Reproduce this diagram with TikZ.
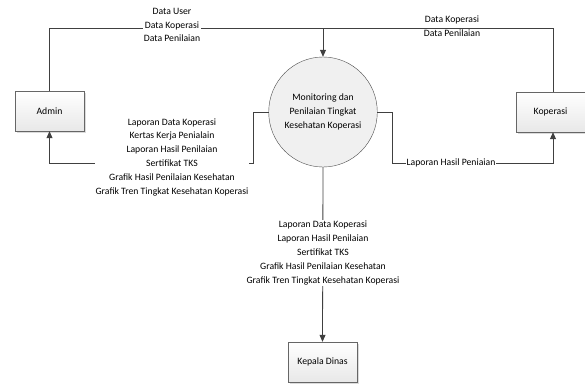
\documentclass[tikz,border=0pt]{standalone}
\usepackage{fontspec}
\setmainfont{Carlito}
\usetikzlibrary{shapes,arrows,arrows.meta,positioning,calc,shadows,shapes.geometric}

\begin{document}
\begin{tikzpicture}[x=1pt,y=-1pt,font=\fontsize{9.7}{13.8}\selectfont]
\tikzstyle{entity} = [rectangle, draw=gray!80!black, top color=white, bottom color=gray!18, minimum width=69pt, minimum height=40pt, inner sep=0pt, drop shadow={shadow xshift=1.5pt, shadow yshift=-1.5pt, fill=gray!35, opacity=0.8}]
\tikzstyle{process} = [ellipse, draw=gray!60!black, fill=gray!12, minimum width=90pt, minimum height=110pt, inner sep=0pt, align=center]
\tikzstyle{flow} = [draw=black!75, line width=0.8pt]
\tikzstyle{arrowflow} = [flow, -{Triangle[length=7pt,width=6pt]}]
\tikzstyle{lbl} = [fill=white, inner sep=1pt, align=center]

\useasboundingbox (0,0) rectangle (585,383);

% External entities and the process
\node [process] (monitoring) at (323,112) {Monitoring dan\\Penilaian Tingkat\\Kesehatan Koperasi};
\node [entity] (admin) at (49.5,111) {Admin};
\node [entity] (koperasi) at (550.5,112) {Koperasi};
\node [entity] (kepala) at (322.5,362) {Kepala Dinas};

% Corner points of the flows
\coordinate (topLeft) at (admin.north |- 0,28);
\coordinate (topRight) at (553,28);
\coordinate (topMid) at (monitoring.north |- 0,28);
\coordinate (leftBend) at (253,0 |- monitoring.west);
\coordinate (leftLow) at (253,163);
\coordinate (adminLow) at (admin.south |- 0,163);
\coordinate (rightBend) at (392,0 |- monitoring.east);
\coordinate (rightLow) at (392,163);
\coordinate (kopLow) at (koperasi.south -| 553,0);

% Input flows
\draw [flow] (admin.north) -- (topLeft) -- (topMid);
\draw [flow] (koperasi.north -| topRight) -- (topRight) -- (topMid);
\draw [arrowflow] (topMid) -- (monitoring.north);

% Output flows
\draw [arrowflow] (monitoring.west) -- (leftBend) -- (leftLow) -- (adminLow) -- (admin.south);
\draw [arrowflow] (monitoring.east) -- (rightBend) -- (rightLow) -- (553,163) -- (kopLow);
\draw [arrowflow] (monitoring.south) -- (kepala.north);

% Flow labels
\node [lbl] (inAdmin) at (172,25) {Data User\\Data Koperasi\\Data Penilaian};
\node [lbl, fill=none] (inKoperasi) at (452,26.5) {Data Koperasi\\Data Penilaian};
\node [lbl] (outAdmin) at (172,157) {Laporan Data Koperasi\\Kertas Kerja Penialain\\Laporan Hasil Penilaian\\Sertifikat TKS\\Grafik Hasil Penilaian Kesehatan\\Grafik Tren Tingkat Kesehatan Koperasi};
\node [lbl] (outKoperasi) at (451,163) {Laporan Hasil Peniaian};
\node [lbl] (outKepala) at (323,253) {Laporan Data Koperasi\\Laporan Hasil Penilaian\\Sertifikat TKS\\Grafik Hasil Penilaian Kesehatan\\Grafik Tren Tingkat Kesehatan Koperasi};

\end{tikzpicture}
\end{document}
